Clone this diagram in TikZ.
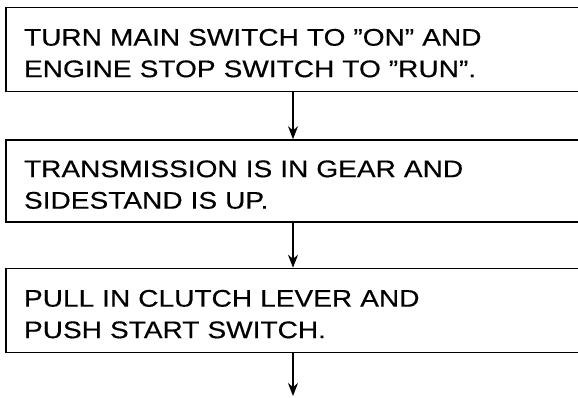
\documentclass[tikz,border=0pt]{standalone}
\usepackage{fontspec}
\setmainfont{Liberation Sans}
\newfontfamily\boxfont[FakeStretch=1.17,FakeBold=0.4]{Liberation Sans}
\usetikzlibrary{arrows.meta}

\begin{document}
\begin{tikzpicture}[x=1pt,y=-1pt]
	
	\useasboundingbox (0,0) rectangle (578,397);
	\clip (0,0) rectangle (578,397);
	
	\tikzset{stepbox/.style={shape=rectangle,draw=black,line width=1.6pt,minimum width=574pt,minimum height=84pt,text width=538pt,align=left,inner xsep=16pt,font=\boxfont\fontsize{24}{31.5}\selectfont}}
	
	\node[stepbox] (switch) at (293, 49.5)   {\rule{0pt}{24pt}TURN MAIN SWITCH TO ”ON” AND\\ENGINE STOP SWITCH TO ”RUN”.};
	\node[stepbox,minimum height=82pt] (gear) at (293, 181)   {\rule{0pt}{24pt}TRANSMISSION IS IN GEAR AND\\SIDESTAND IS UP.};
	\node[stepbox] (clutch) at (293, 310.5)   {\rule{0pt}{24pt}PULL IN CLUTCH LEVER AND\\PUSH START SWITCH.};
	\coordinate (next) at (293, 396);
	
	\path[-{Stealth[length=13pt,width=10pt]}, line width=1.4pt] (switch) edge (gear);
	\path[-{Stealth[length=13pt,width=10pt]}, line width=1.4pt] (gear) edge (clutch);
	\path[-{Stealth[length=13pt,width=10pt]}, line width=1.4pt] (clutch) edge (next);
	
\end{tikzpicture}
\end{document}
